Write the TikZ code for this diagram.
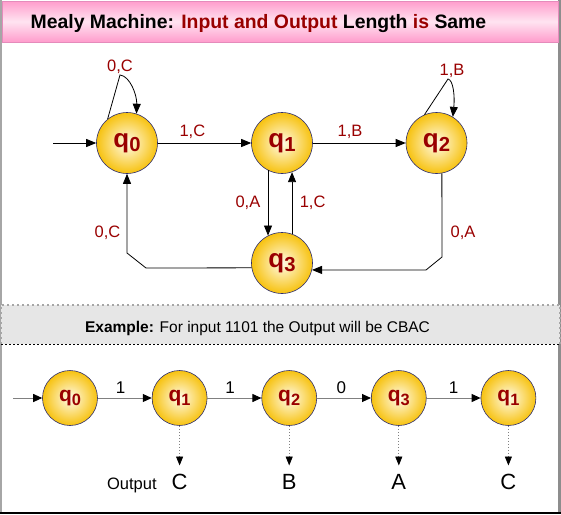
\documentclass[tikz,border=0pt]{standalone}
\usepackage{fontspec}
\setmainfont{Liberation Sans}
\usepackage{graphicx}
\usetikzlibrary{arrows.meta,positioning}
\definecolor{mmRed}{HTML}{990000}
\definecolor{mmGold}{HTML}{F7C20F}
\definecolor{mmCore}{HTML}{FFFBEA}
\definecolor{mmRim}{HTML}{2E2E6E}
\definecolor{mmPink}{HTML}{FF9CCC}
\definecolor{mmPinkLight}{HTML}{FFE4F1}
\definecolor{mmPinkRim}{HTML}{E58BBB}
\definecolor{mmBand}{HTML}{E6E6E6}
\definecolor{mmGrey}{HTML}{808080}
\definecolor{mmFrame}{HTML}{A6A6A6}
\newcommand{\stq}[1]{q\raisebox{-0.17em}{\scalebox{0.78}{#1}}}
\tikzset{
  mmstate/.style={circle, draw=mmRim, line width=0.6pt, inner color=mmCore, outer color=mmGold,
                  minimum size=61pt, inner sep=0pt, text=mmRed, font=\fontsize{26}{26}\selectfont\bfseries},
  mmrun/.style={mmstate, minimum size=55pt, font=\fontsize{21}{21}\selectfont\bfseries},
  mmlabel/.style={font=\fontsize{16.5}{19}\selectfont, text=mmRed},
  mmsym/.style={font=\fontsize{17}{19}\selectfont, text=black},
  mmout/.style={font=\fontsize{22}{24}\selectfont, text=black},
  mmarrow/.style={-{Triangle[length=10pt,width=8pt]}, line width=0.8pt, draw=black},
  runarrow/.style={-{Triangle[length=9pt,width=8pt,color=black]}, line width=1pt, draw=mmGrey},
  outarrow/.style={-{Triangle[length=9pt,width=7pt,color=black]}, line width=0.9pt, draw=mmGrey,
                   dash pattern=on 1.5pt off 1.5pt}
}

\begin{document}
\begin{tikzpicture}[x=1pt, y=-1pt]
\useasboundingbox (0,0) rectangle (561,514);

% frame and title bar
\draw[mmFrame, line width=2pt] (1,0) -- (1,514);
\draw[mmFrame!85!black, line width=2.5pt] (559.5,0) -- (559.5,514);
\draw[black, line width=2pt] (0,513) -- (561,513);
\draw[draw=mmPinkRim, line width=1pt, top color=mmPink, bottom color=mmPink, middle color=mmPinkLight]
  (2,1) rectangle (558,42);
\node[font=\fontsize{19.4}{23}\selectfont\bfseries] (title) at (258.5,24)
  {Mealy Machine: \textcolor{mmRed}{Input and Output} Length \textcolor{mmRed}{is} Same};

% machine
\node[mmstate] (q0) at (127,143) {\stq{0}};
\node[mmstate] (q1) at (282,143) {\stq{1}};
\node[mmstate] (q2) at (436.5,143) {\stq{2}};
\node[mmstate] (q3) at (282,263) {\stq{3}};
\coordinate (start) at (53,143);

\draw[mmarrow] (start) -- (q0);
\draw[mmarrow] (q0) -- node[mmlabel, pos=0.37, above=1pt] {1,C} (q1);
\draw[mmarrow] (q1) -- node[mmlabel, pos=0.4, above=1pt] {1,B} (q2);
\draw[mmarrow] (q1.243) -- node[mmlabel, left=4pt] {0,A} (q3.117);
\draw[mmarrow] (q3.71) -- node[mmlabel, right=4pt] {1,C} (q1.289);
\draw[mmarrow] (q3.189) -- (146,268) -- (127,253) -- node[mmlabel, pos=0.26, left=3pt] {0,C} (q0.south);
\draw[mmarrow] (q2.280) -- node[mmlabel, pos=0.71, right=5pt] {0,A} (442,257) -- (426,270) -- (q3.347);
% self loops
\draw[mmarrow] (q0.129) -- (120,75) node[mmlabel, above=-2pt] {0,C}
  .. controls (130,76) and (137,95) .. (q0.72);
\draw[mmarrow] (q2.113) -- (448,79) node[mmlabel, above=-2pt, xshift=4pt] {1,B}
  .. controls (453,80) and (455,95) .. (q2.58);

% example band
\fill[mmBand] (1,305) rectangle (560,344);
\draw[mmFrame, line width=1.5pt, dash pattern=on 2pt off 3pt] (1,344) -- (1,305) -- (560,305) -- (560,344);
\draw[black, line width=1pt, dash pattern=on 2pt off 2pt] (1,344) -- (560,344);
\node[font=\fontsize{15.5}{18}\selectfont] (extxt) at (257.5,328.4)
  {\textbf{Example:} For input 1101 the Output will be CBAC};

% run for 1101
\node[mmrun] (r0) at (70,398) {\stq{0}};
\node[mmrun, right=54pt of r0] (r1) {\stq{1}};
\node[mmrun, right=54pt of r1] (r2) {\stq{2}};
\node[mmrun, right=54pt of r2] (r3) {\stq{3}};
\node[mmrun, right=54pt of r3] (r4) {\stq{1}};
\coordinate (runstart) at (13,398);

\draw[runarrow] (runstart) -- (r0);
\draw[runarrow] (r0) -- node[mmsym, pos=0.42, above=1pt] {1} (r1);
\draw[runarrow] (r1) -- node[mmsym, pos=0.42, above=1pt] {1} (r2);
\draw[runarrow] (r2) -- node[mmsym, pos=0.45, above=1pt] {0} (r3);
\draw[runarrow] (r3) -- node[mmsym, pos=0.5, above=1pt] {1} (r4);

% outputs
\foreach \i/\o in {1/C,2/B,3/A,4/C} {
  \node[mmout, below=44.7pt of r\i] (o\i) {\o};
  \draw[outarrow, shorten >=5pt] (r\i) -- (o\i);
}
\node[font=\fontsize{16.5}{18}\selectfont, left=8pt of o1.base west, anchor=base east] (outword) {Output};

\end{tikzpicture}
\end{document}
